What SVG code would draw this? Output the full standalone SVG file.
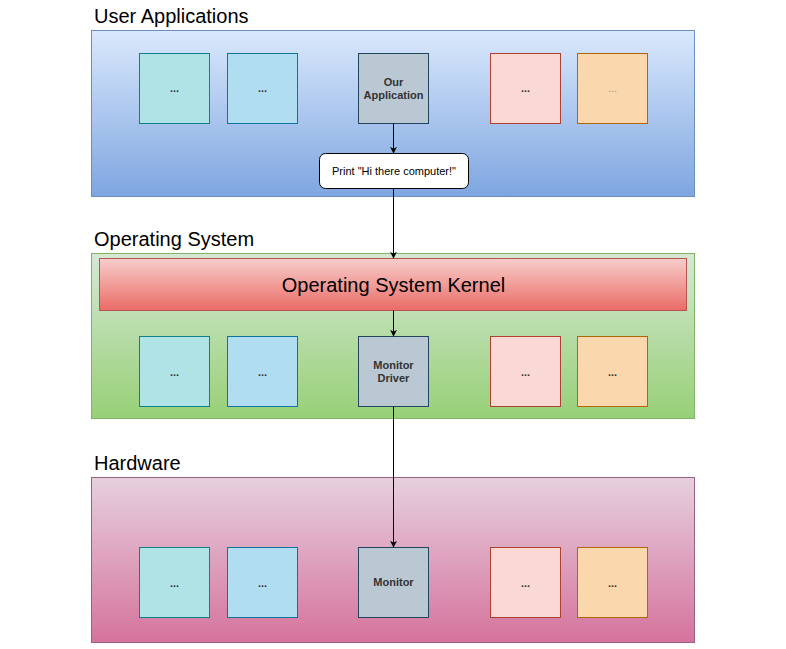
<svg xmlns="http://www.w3.org/2000/svg" width="786" height="649" viewBox="0 0 786 649">
<defs>
<linearGradient id="gBlue" x1="0" y1="0" x2="0" y2="1"><stop offset="0" stop-color="#dae8fc"/><stop offset="1" stop-color="#7ea6e0"/></linearGradient>
<linearGradient id="gGreen" x1="0" y1="0" x2="0" y2="1"><stop offset="0" stop-color="#d5e8d4"/><stop offset="1" stop-color="#97d077"/></linearGradient>
<linearGradient id="gPink" x1="0" y1="0" x2="0" y2="1"><stop offset="0" stop-color="#e6d0de"/><stop offset="1" stop-color="#d5739d"/></linearGradient>
<linearGradient id="gRed" x1="0" y1="0" x2="0" y2="1"><stop offset="0" stop-color="#f8cecc"/><stop offset="1" stop-color="#ea6b66"/></linearGradient>
<marker id="arr" viewBox="0 0 10 10" refX="9" refY="5" markerWidth="7" markerHeight="7" orient="auto" markerUnits="userSpaceOnUse"><path d="M0,0 L10,5 L0,10 L3,5 z" fill="#000"/></marker>
</defs>
<style>
text{font-family:"Liberation Sans",Arial,sans-serif;}
.title{font-size:20px;fill:#000;}
.lbl{font-size:11px;font-weight:bold;fill:#333;text-anchor:middle;}
.b1{fill:#b0e3e6;stroke:#0e8088;}
.b2{fill:#b1ddf0;stroke:#10739e;}
.b3{fill:#bac8d3;stroke:#23445d;}
.b4{fill:#fad9d5;stroke:#ae4132;}
.b5{fill:#fad7ac;stroke:#b46504;}
.conn{stroke:#000;stroke-width:1;fill:none;marker-end:url(#arr);}
</style>
<rect width="786" height="649" fill="#fff"/>

<g id="user-apps">
<text class="title" x="94" y="23">User Applications</text>
<rect x="91.5" y="30.5" width="603" height="166" fill="url(#gBlue)" stroke="#6c8ebf"/>
</g>
<g id="ua-1"><rect class="b1" x="139.5" y="53.5" width="70" height="70"/><text class="lbl" x="174.5" y="92">...</text></g>
<g id="ua-2"><rect class="b2" x="227.5" y="53.5" width="70" height="70"/><text class="lbl" x="262.5" y="92">...</text></g>
<g id="our-app"><rect class="b3" x="358.5" y="53.5" width="70" height="70"/><text class="lbl" x="393.5" y="86">Our</text><text class="lbl" x="393.5" y="99">Application</text></g>
<g id="ua-4"><rect class="b4" x="490.5" y="53.5" width="70" height="70"/><text class="lbl" x="525.5" y="92">...</text></g>
<g id="ua-5"><rect class="b5" x="577.5" y="53.5" width="70" height="70"/><text class="lbl" x="612.5" y="92" style="fill:#999;font-weight:normal">...</text></g>
<g id="print"><rect x="319.5" y="153.5" width="149" height="35" rx="6" fill="#fff" stroke="#000"/><text x="394" y="175" style="font-size:11px;fill:#000;text-anchor:middle">Print "Hi there computer!"</text></g>

<g id="os">
<text class="title" x="94" y="246">Operating System</text>
<rect x="91.5" y="253.5" width="603" height="165" fill="url(#gGreen)" stroke="#82b366"/>
</g>
<g id="kernel"><rect x="99.5" y="258.5" width="587" height="52" fill="url(#gRed)" stroke="#b85450"/><text x="393.5" y="292" style="font-size:20px;fill:#000;text-anchor:middle">Operating System Kernel</text></g>
<g id="os-1"><rect class="b1" x="139.5" y="336.5" width="70" height="70"/><text class="lbl" x="174.5" y="376">...</text></g>
<g id="os-2"><rect class="b2" x="227.5" y="336.5" width="70" height="70"/><text class="lbl" x="262.5" y="376">...</text></g>
<g id="monitor-driver"><rect class="b3" x="358.5" y="336.5" width="70" height="70"/><text class="lbl" x="393.5" y="369">Monitor</text><text class="lbl" x="393.5" y="382">Driver</text></g>
<g id="os-4"><rect class="b4" x="490.5" y="336.5" width="70" height="70"/><text class="lbl" x="525.5" y="376">...</text></g>
<g id="os-5"><rect class="b5" x="577.5" y="336.5" width="70" height="70"/><text class="lbl" x="612.5" y="376">...</text></g>

<g id="hardware">
<text class="title" x="94" y="470">Hardware</text>
<rect x="91.5" y="477.5" width="603" height="165" fill="url(#gPink)" stroke="#996185"/>
</g>
<g id="hw-1"><rect class="b1" x="139.5" y="547.5" width="70" height="70"/><text class="lbl" x="174.5" y="587">...</text></g>
<g id="hw-2"><rect class="b2" x="227.5" y="547.5" width="70" height="70"/><text class="lbl" x="262.5" y="587">...</text></g>
<g id="monitor"><rect class="b3" x="358.5" y="547.5" width="70" height="70"/><text class="lbl" x="393.5" y="586">Monitor</text></g>
<g id="hw-4"><rect class="b4" x="490.5" y="547.5" width="70" height="70"/><text class="lbl" x="525.5" y="587">...</text></g>
<g id="hw-5"><rect class="b5" x="577.5" y="547.5" width="70" height="70"/><text class="lbl" x="612.5" y="587">...</text></g>

<g id="connectors">
<line class="conn" x1="393.5" y1="123.5" x2="393.5" y2="153"/>
<line class="conn" x1="393.5" y1="188.5" x2="393.5" y2="258"/>
<line class="conn" x1="393.5" y1="310.5" x2="393.5" y2="336"/>
<line class="conn" x1="393.5" y1="406.5" x2="393.5" y2="547"/>
</g>
</svg>
